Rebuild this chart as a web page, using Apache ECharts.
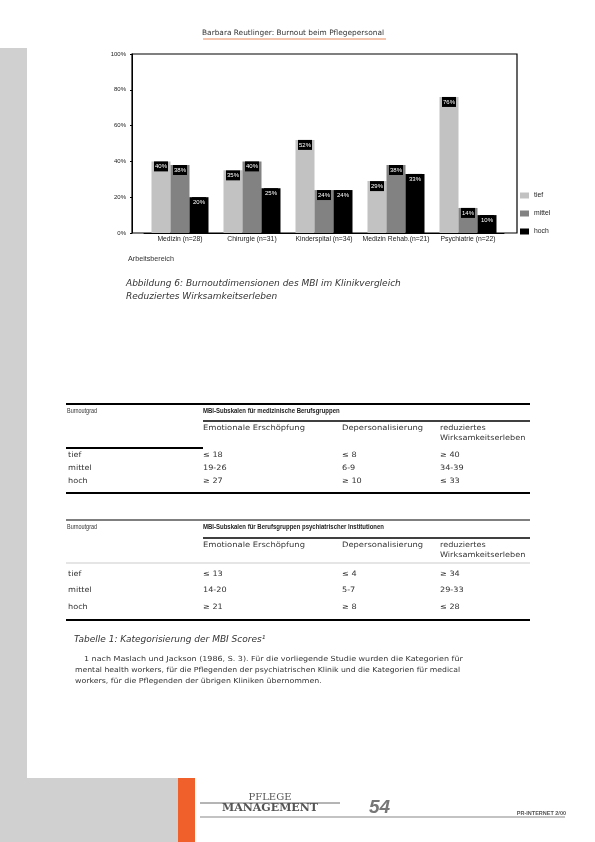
<!DOCTYPE html>
<html><head><meta charset="utf-8">
<script src="https://cdn.jsdelivr.net/npm/echarts@6/dist/echarts.min.js"></script>
<style>html,body{margin:0;padding:0;background:#fff}#c{width:595px;height:842px}</style>
</head><body><div id="c"></div>
<script>
const categories = ['Medizin (n=28)', 'Chirurgie (n=31)', 'Kinderspital (n=34)', 'Medizin Rehab.(n=21)', 'Psychiatrie (n=22)'];
const seriesNames = ['tief', 'mittel', 'hoch'];
const tief = [40, 35, 52, 29, 76];
const mittel = [38, 40, 24, 38, 14];
const hoch = [20, 25, 24, 33, 10];
const yTicks = [0, 20, 40, 60, 80, 100];
const colors = ['#c2c2c2', '#828282', '#000000'];

const table1Title = 'MBI-Subskalen für medizinische Berufsgruppen';
const table2Title = 'MBI-Subskalen für Berufsgruppen psychiatrischer Institutionen';
const colHeads = ['Emotionale Erschöpfung', 'Depersonalisierung', 'reduziertes\nWirksamkeitserleben'];
const rowHeads = ['tief', 'mittel', 'hoch'];
const table1Rows = [['≤ 18', '≤ 8', '≥ 40'], ['19-26', '6-9', '34-39'], ['≥ 27', '≥ 10', '≤ 33']];
const table2Rows = [['≤ 13', '≤ 4', '≥ 34'], ['14-20', '5-7', '29-33'], ['≥ 21', '≥ 8', '≤ 28']];

const F = 'Liberation Sans, Arial, sans-serif';
const D = 'DejaVu Sans, sans-serif';
const chart = echarts.init(document.getElementById('c'), null, {renderer: 'canvas'});

function txt(x, y, s, size, extra, sx) {
  return {type: 'text', x: x, y: y, scaleX: sx || 1, style: Object.assign({text: s, fontSize: size, fontFamily: F, fill: '#222', textVerticalAlign: 'middle'}, extra || {})};
}
function line(x1, y1, x2, y2, w, c) {
  return {type: 'line', shape: {x1: x1, y1: y1, x2: x2, y2: y2}, style: {stroke: c || '#000', lineWidth: w}};
}
const g = [];
// page decorations
g.push({type: 'rect', shape: {x: 0, y: 48, width: 27, height: 730}, style: {fill: '#d0d0d0'}});
g.push({type: 'rect', shape: {x: 0, y: 778, width: 178, height: 64}, style: {fill: '#d0d0d0'}});
g.push({type: 'rect', shape: {x: 178, y: 778, width: 17, height: 64}, style: {fill: '#f0602a'}});
// header
g.push(txt(293, 33, 'Barbara Reutlinger: Burnout beim Pflegepersonal', 7.4, {textAlign: 'center', fill: '#333', fontFamily: D}));
g.push(line(203, 39, 386, 39, 1.5, '#f2b090'));
// axis title & caption
g.push(txt(128, 259, 'Arbeitsbereich', 7.2, {fill: '#333'}));
g.push(txt(126, 284, 'Abbildung 6: Burnoutdimensionen des MBI im Klinikvergleich', 9, {fontStyle: 'italic', fontFamily: D, fill: '#333'}));
g.push(txt(126, 297, 'Reduziertes Wirksamkeitserleben', 9, {fontStyle: 'italic', fontFamily: D, fill: '#333'}));

const RIGHT = 530;
const body = {fontFamily: D, fill: '#333'};
function table(top, title, rows, rowYs, bottom, hdrLineY, colY, sepY, sepFull, topW) {
  g.push(line(66, top, RIGHT, top, topW));
  g.push(txt(67, top + 7, 'Burnoutgrad', 7, {fill: '#333'}, 0.78));
  g.push(txt(203, top + 7, title, 7.5, {fontWeight: 'bold', fill: '#222'}, 0.8));
  g.push(line(203, hdrLineY, RIGHT, hdrLineY, 1.5));
  g.push(txt(203, colY, colHeads[0], 7.4, body, 1.13));
  g.push(txt(342, colY, colHeads[1], 7.4, body, 1.13));
  g.push(txt(440, colY + 5, colHeads[2], 7.4, Object.assign({lineHeight: 10}, body), 1.1));
  if (sepFull) g.push(line(66, sepY, RIGHT, sepY, 0.6, '#aaa'));
  else g.push(line(66, sepY, 203, sepY, 2));
  const xs = [203, 342, 440];
  rows.forEach((r, i) => {
    g.push(txt(68, rowYs[i], rowHeads[i], 7.4, body, 1.1));
    r.forEach((v, j) => g.push(txt(xs[j], rowYs[i], v, 7.4, body, 1.1)));
  });
  g.push(line(66, bottom, RIGHT, bottom, 2.2));
}
table(404, table1Title, table1Rows, [455, 468, 481], 493, 421, 428, 448, false, 2);
table(520, table2Title, table2Rows, [574, 590, 607], 620, 538, 545, 563, true, 1.2);

g.push(txt(74, 640, 'Tabelle 1: Kategorisierung der MBI Scores¹', 9, {fontStyle: 'italic', fontFamily: D, fill: '#333'}));
g.push(txt(84, 659, '1 nach Maslach und Jackson (1986, S. 3). Für die vorliegende Studie wurden die Kategorien für', 7, body, 1.14));
g.push(txt(75, 670, 'mental health workers, für die Pflegenden der psychiatrischen Klinik und die Kategorien für medical', 7, body, 1.1));
g.push(txt(75, 681, 'workers, für die Pflegenden der übrigen Kliniken übernommen.', 7, body, 1.12));

// footer
g.push(txt(270, 797, 'PFLEGE', 10, {textAlign: 'center', fontFamily: 'DejaVu Serif, serif', fill: '#555'}));
g.push(line(200, 803, 340, 803, 0.8, '#444'));
g.push(txt(270, 808, 'MANAGEMENT', 11, {textAlign: 'center', fontFamily: 'DejaVu Serif, serif', fontWeight: 'bold', fill: '#555'}));
g.push(txt(369, 808, '54', 19, {fontStyle: 'italic', fontWeight: 'bold', fill: '#777'}));
g.push(line(200, 817, 565, 817, 1.2, '#888'));
g.push(txt(566, 813, 'PR-INTERNET 2/00', 5.5, {textAlign: 'right', fill: '#555', fontWeight: 'bold'}));

const labelCfg = {show: true, position: 'insideTop', distance: 0, formatter: '{c}%', color: '#fff', backgroundColor: '#000', fontSize: 6, fontFamily: F, padding: [2, 1, 2, 1]};
const data = [tief, mittel, hoch];

chart.setOption({
  animation: false,
  grid: [
    {left: 144, top: 54, width: 360, height: 179, containLabel: false},
    {left: 132, top: 54, width: 385, height: 179, show: true, borderColor: '#000', borderWidth: 1.2, backgroundColor: 'transparent'}
  ],
  legend: {orient: 'vertical', left: 520, top: 192, padding: 0, itemWidth: 9, itemHeight: 6, itemGap: 11,
    textStyle: {fontSize: 6.8, fontFamily: F, color: '#222'}, data: seriesNames, icon: 'rect'},
  xAxis: [
    {type: 'category', gridIndex: 0, data: categories, axisLine: {lineStyle: {color: '#000'}},
      axisTick: {alignWithLabel: true, length: 2, lineStyle: {color: '#000'}},
      axisLabel: {fontSize: 6.8, fontFamily: F, color: '#222', margin: 3, interval: 0}},
    {type: 'value', gridIndex: 1, show: false}
  ],
  yAxis: [
    {type: 'value', gridIndex: 0, min: 0, max: 100, interval: 20, offset: 12,
      axisLine: {show: true, lineStyle: {color: '#000'}}, axisTick: {show: true, length: 2, lineStyle: {color: '#000'}},
      splitLine: {show: false},
      axisLabel: {formatter: '{value}%', fontSize: 6, fontFamily: F, color: '#222', margin: 6}},
    {type: 'value', gridIndex: 1, show: false}
  ],
  series: seriesNames.map((n, i) => ({
    name: n, type: 'bar', xAxisIndex: 0, yAxisIndex: 0, data: data[i], barWidth: 19, barGap: '0%',
    itemStyle: {color: colors[i]}, label: labelCfg
  })),
  graphic: g
});
</script></body></html>
